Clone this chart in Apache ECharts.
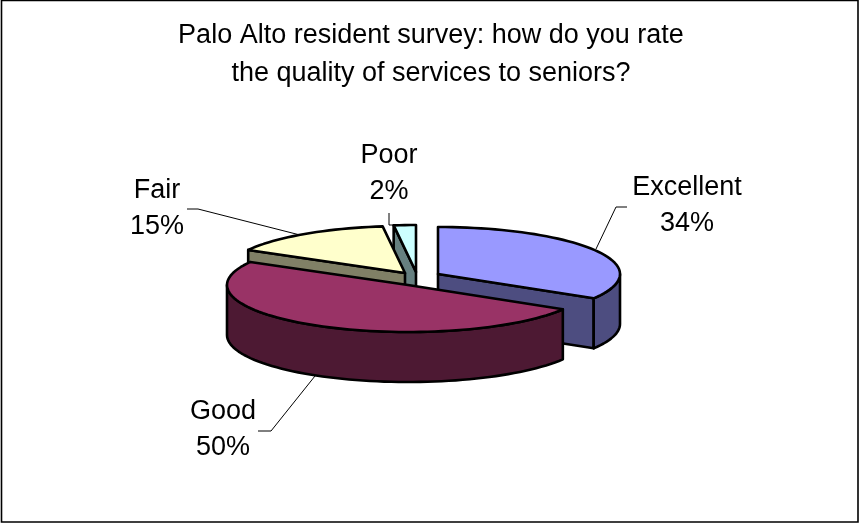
<!DOCTYPE html>
<html><head><meta charset="utf-8">
<style>html,body{margin:0;padding:0;background:#fff}#c{width:859px;height:523px}</style>
<script src="https://cdn.jsdelivr.net/npm/echarts@6/dist/echarts.min.js"></script>
</head><body><div id="c"></div>
<script>
const titleText = 'Palo Alto resident survey: how do you rate\nthe quality of services to seniors?';
const categories = ['Excellent', 'Good', 'Fair', 'Poor'];
const values = [34, 50, 15, 2];
const topColors = ['#9999FF', '#993366', '#FFFFCC', '#CCFFFF'];
const sideColors = ['#4D4D80', '#4D1933', '#808066', '#668080'];
const paintOrder = [2, 3, 1, 0];
// exploded slice apex positions on the page
const apexes = [[438, 274], [408, 285], [405, 273], [416, 272]];
const radii = [[182, 47], [181, 47], [180, 47], [180, 47]];
const depth = 50;
const labelPos = [[687, 206], [223, 430], [157, 209], [389, 174]];
const leaders = [
  [[596, 249], [616, 207], [627, 207]],
  [[315, 376], [271, 431], [258, 431]],
  [[300, 235], [198, 209], [187, 209]],
  [[394, 225], [389, 225], [389, 213]]
];
const fontFamily = '"Liberation Sans", Arial, sans-serif';

const total = values.reduce((a, b) => a + b, 0);
const starts = [];
values.reduce((acc, v, i) => { starts[i] = acc; return acc + v; }, 0);
const rad = v => v / total * Math.PI * 2;

function pt(i, ang, dz) {
  return [apexes[i][0] + radii[i][0] * Math.sin(ang),
          apexes[i][1] - radii[i][1] * Math.cos(ang) + dz];
}
function arcPts(i, a, b, dz) {
  const pts = [], n = Math.max(2, Math.ceil((b - a) / 0.04));
  for (let k = 0; k <= n; k++) pts.push(pt(i, a + (b - a) * k / n, dz));
  return pts;
}
function poly(points, fill, z2) {
  return { type: 'polygon', shape: { points }, z2,
    style: { fill, stroke: '#000', lineWidth: 2.6, lineJoin: 'round' } };
}
function renderItem(params, api) {
  const i = params.dataIndex;
  const a = rad(starts[i]), b = a + rad(api.value(0));
  const c = apexes[i], side = sideColors[i], z = paintOrder[i] * 10;
  const kids = [];
  // radial cut faces that look towards the viewer
  if (Math.sin(a) < -1e-6) {
    const p = pt(i, a, 0);
    kids.push(poly([c, p, [p[0], p[1] + depth], [c[0], c[1] + depth]], side, z));
  }
  if (Math.sin(b) > 1e-6) {
    const p = pt(i, b, 0);
    kids.push(poly([c, p, [p[0], p[1] + depth], [c[0], c[1] + depth]], side, z));
  }
  // outer wall: front half of the rim only
  const wa = Math.max(a, Math.PI / 2), wb = Math.min(b, Math.PI * 1.5);
  if (wb > wa) {
    const up = arcPts(i, wa, wb, 0), down = arcPts(i, wa, wb, depth).reverse();
    kids.push(poly(up.concat(down), side, z + 1));
  }
  // top surface
  kids.push(poly([c].concat(arcPts(i, a, b, 0)), topColors[i], z + 2));
  // leader line and label
  kids.push({ type: 'polyline', shape: { points: leaders[i] }, z2: 100,
    style: { fill: null, stroke: '#000', lineWidth: 1 } });
  kids.push({ type: 'text', z2: 101, x: labelPos[i][0], y: labelPos[i][1],
    style: { text: categories[i] + '\n' + values[i] + '%', fill: '#000',
      font: '27px ' + fontFamily, lineHeight: 36, align: 'center', verticalAlign: 'middle' } });
  return { type: 'group', children: kids };
}

const chart = echarts.init(document.getElementById('c'), null, { renderer: 'canvas' });
chart.setOption({
  animation: false,
  backgroundColor: '#fff',
  title: { text: titleText, left: 426, top: 12, textAlign: 'center',
    textStyle: { fontFamily, fontSize: 27, fontWeight: 'normal', color: '#000', lineHeight: 38 } },
  graphic: [{ type: 'rect', shape: { x: 1.5, y: 0.5, width: 856.5, height: 521.5 }, silent: true,
    style: { fill: null, stroke: '#000', lineWidth: 1.6 } }],
  series: [{ type: 'custom', coordinateSystem: 'none', renderItem,
    data: values.map((v, i) => ({ name: categories[i], value: [v] })) }]
});
</script></body></html>
